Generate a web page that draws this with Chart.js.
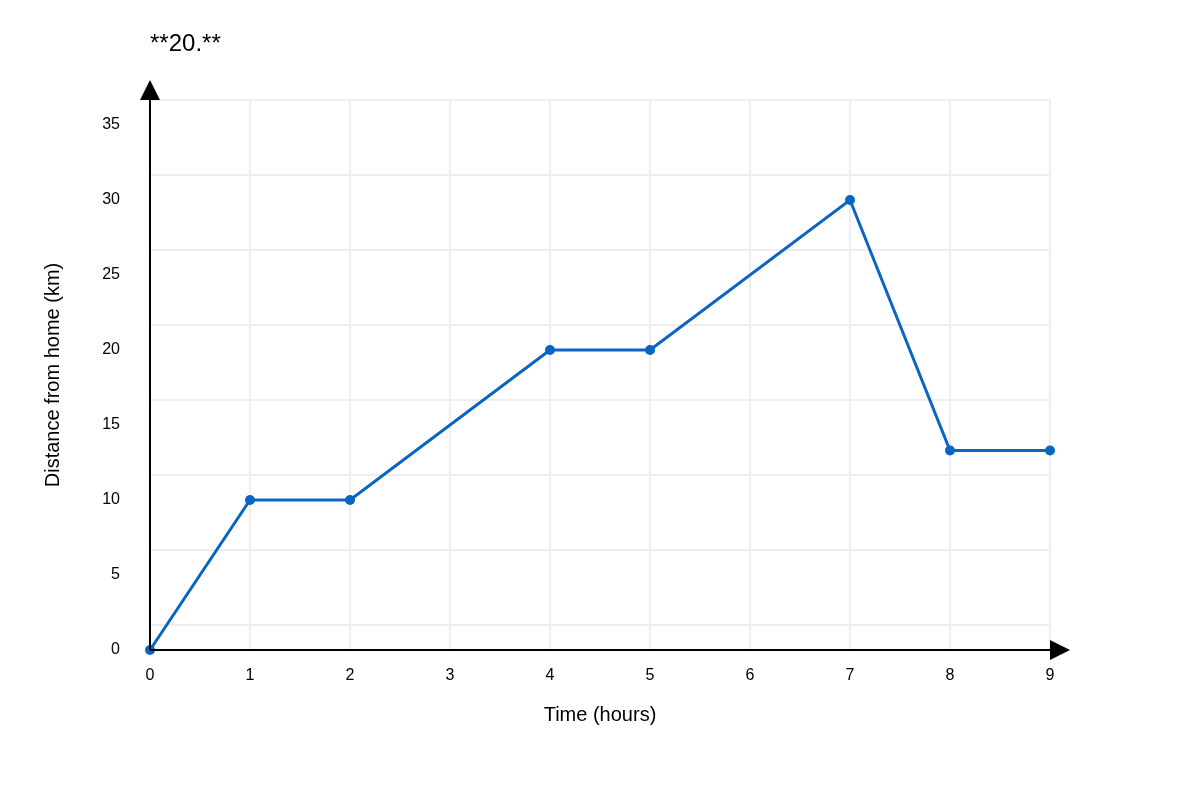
<!DOCTYPE html>
<html>
<head>
<meta charset="utf-8">
<script src="https://cdn.jsdelivr.net/npm/chart.js@4.4.1/dist/chart.umd.min.js"></script>
<style>
  html, body { margin: 0; padding: 0; background: #fff; }
  #wrap { width: 1200px; height: 800px; }
</style>
</head>
<body>
<div id="wrap"><canvas id="myChart" width="1200" height="800"></canvas></div>
<script>
// data
const hours = [0, 1, 2, 4, 5, 7, 8, 9];
const distance = [0, 10, 10, 20, 20, 30, 13.3, 13.3];
const yTicks = [0, 5, 10, 15, 20, 25, 30, 35];
const xTicks = [0, 1, 2, 3, 4, 5, 6, 7, 8, 9];
const yMax = 36.67;

const lineColor = '#0a64c4';
const gridColor = '#eeeeee';
const font = 'Liberation Sans, Arial, sans-serif';

// black axis lines with arrow heads + heading
const axesArrows = {
  id: 'axesArrows',
  afterDraw(chart) {
    const ctx = chart.ctx;
    const x = chart.scales.x, y = chart.scales.y;
    const x0 = x.getPixelForValue(0), x9 = x.getPixelForValue(9);
    const y0 = y.getPixelForValue(0), yTop = y.getPixelForValue(yMax);
    ctx.save();
    ctx.strokeStyle = '#000';
    ctx.fillStyle = '#000';
    ctx.lineWidth = 2;
    ctx.beginPath();
    ctx.moveTo(x0, y0);
    ctx.lineTo(x9 + 10, y0);
    ctx.moveTo(x0, y0);
    ctx.lineTo(x0, yTop - 10);
    ctx.stroke();
    // x arrow
    ctx.beginPath();
    ctx.moveTo(x9, y0 - 10);
    ctx.lineTo(x9 + 20, y0);
    ctx.lineTo(x9, y0 + 10);
    ctx.closePath();
    ctx.fill();
    // y arrow
    ctx.beginPath();
    ctx.moveTo(x0 - 10, yTop);
    ctx.lineTo(x0, yTop - 20);
    ctx.lineTo(x0 + 10, yTop);
    ctx.closePath();
    ctx.fill();
    // heading
    ctx.font = '24px ' + font;
    ctx.textAlign = 'left';
    ctx.textBaseline = 'middle';
    ctx.fillText('**20.**', x0, 44);
    ctx.restore();
  }
};

const ctx = document.getElementById('myChart').getContext('2d');
const myChart = new Chart(ctx, {
  type: 'line',
  data: {
    datasets: [{
      label: 'Distance',
      data: hours.map((h, i) => ({ x: h, y: distance[i] })),
      borderColor: lineColor,
      backgroundColor: lineColor,
      borderWidth: 3,
      pointRadius: 5,
      pointBackgroundColor: lineColor,
      pointBorderWidth: 0,
      tension: 0,
      clip: false
    }]
  },
  options: {
    responsive: false,
    animation: false,
    devicePixelRatio: 1,
    layout: { padding: { top: 100, right: 150, bottom: 73, left: 0 } },
    plugins: {
      legend: { display: false },
      tooltip: { enabled: false },
      title: { display: false }
    },
    scales: {
      x: {
        type: 'linear',
        min: 0,
        max: 9,
        afterBuildTicks: (s) => { s.ticks = xTicks.map(v => ({ value: v })); },
        afterFit: (s) => { s.height = 77; },
        grid: { color: gridColor, lineWidth: 2, drawTicks: false },
        border: { display: false },
        ticks: { color: '#000', padding: 16, font: { size: 16, family: font } },
        title: {
          display: true,
          text: 'Time (hours)',
          color: '#000',
          padding: { top: 0, bottom: 0 },
          font: { size: 20, family: font }
        }
      },
      y: {
        type: 'linear',
        position: 'left',
        min: 0,
        max: yMax,
        afterBuildTicks: (s) => { s.ticks = yTicks.map(v => ({ value: v })); },
        afterFit: (s) => { s.width = 150; },
        grid: { display: false },
        border: { display: false },
        ticks: { color: '#000', padding: 22, font: { size: 16, family: font } },
        title: {
          display: true,
          text: 'Distance from home (km)',
          color: '#000',
          padding: { top: 41, bottom: 0 },
          font: { size: 20, family: font }
        }
      },
      // grid rows, counted down from the top edge
      yGrid: {
        type: 'linear',
        position: 'left',
        reverse: true,
        min: 0,
        max: yMax,
        afterBuildTicks: (s) => { s.ticks = yTicks.map(v => ({ value: v })); },
        afterFit: (s) => { s.width = 0; },
        grid: { color: gridColor, lineWidth: 2, drawTicks: false },
        border: { display: false },
        ticks: { display: false }
      }
    }
  },
  plugins: [axesArrows]
});
</script>
</body>
</html>
